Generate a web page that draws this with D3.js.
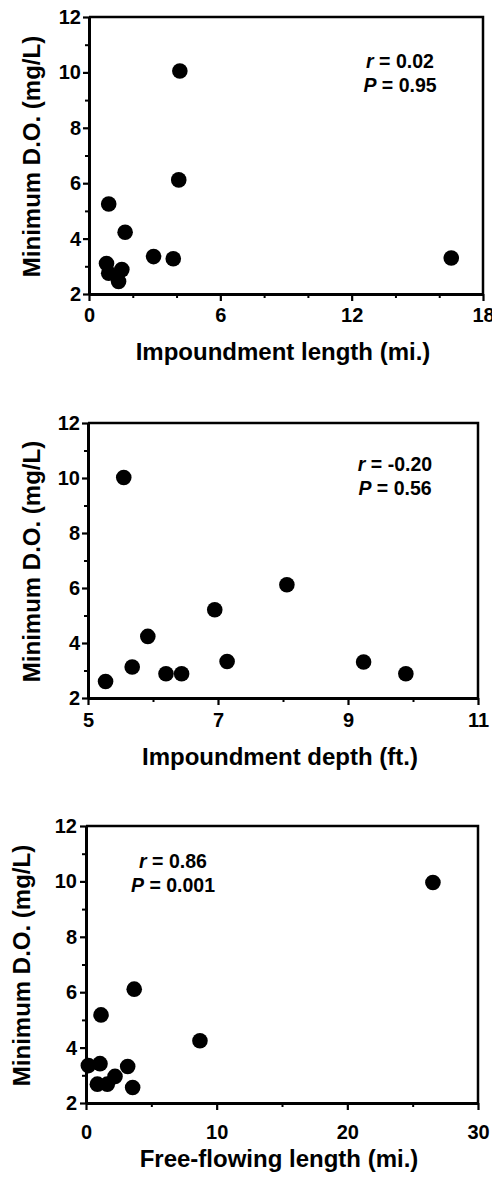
<!DOCTYPE html>
<html>
<head>
<meta charset="utf-8">
<script src="https://cdn.jsdelivr.net/npm/d3@7"></script>
<style>
  html, body { margin: 0; padding: 0; background: #fff; }
  svg { display: block; }
  text { font-family: "Liberation Sans", Arial, sans-serif; font-weight: bold; fill: #000; }
</style>
</head>
<body>
<svg id="chart" width="492" height="1182"></svg>
<script>
// ---- data ----
const yTitle = "Minimum D.O. (mg/L)";
const yMajorTicks = [2, 4, 6, 8, 10, 12];
const yMinorTicks = [3, 5, 7, 9, 11];

// Panel 1: impoundment length
const lengthTitle = "Impoundment length (mi.)";
const lengthMajorTicks = [0, 6, 12, 18];
const lengthMinorTicks = [2, 4, 8, 10, 14, 16];
const lengthX = [4.15, 4.1, 0.9, 1.65, 2.95, 3.85, 16.55, 0.8, 0.9, 1.5, 1.35];
const lengthY = [10.05, 6.12, 5.25, 4.23, 3.35, 3.27, 3.3, 3.1, 2.75, 2.88, 2.45];
const lengthStats = ["0.02", "0.95"];

// Panel 2: impoundment depth
const depthTitle = "Impoundment depth (ft.)";
const depthMajorTicks = [5, 7, 9, 11];
const depthMinorTicks = [6, 8, 10];
const depthX = [5.27, 5.55, 5.68, 5.92, 6.2, 6.44, 6.95, 7.14, 8.06, 9.24, 9.89];
const depthY = [2.6, 10.02, 3.13, 4.24, 2.88, 2.88, 5.21, 3.33, 6.12, 3.31, 2.88];
const depthStats = ["-0.20", "0.56"];

// Panel 3: free-flowing length
const freeTitle = "Free-flowing length (mi.)";
const freeMajorTicks = [0, 10, 20, 30];
const freeMinorTicks = [5, 15, 25];
const freeX = [0.18, 1.07, 0.87, 1.63, 2.22, 3.19, 3.57, 1.15, 3.69, 8.72, 26.55];
const freeY = [3.35, 3.42, 2.68, 2.68, 2.96, 3.32, 2.56, 5.18, 6.11, 4.25, 9.96];
const freeStats = ["0.86", "0.001"];

// ---- drawing ----
const svg = d3.select("#chart");

function drawPanel(p) {
  const x = d3.scaleLinear().domain([p.xMajor[0], p.xMajor[p.xMajor.length - 1]]).range([p.left, p.right]);
  const y = d3.scaleLinear().domain([yMajorTicks[0], yMajorTicks[yMajorTicks.length - 1]]).range([p.bottom, p.top]);
  const g = svg.append("g");

  // frame (top and right)
  g.append("path")
    .attr("d", `M${x.range()[0]},${y(12)}H${x.range()[1]}V${y(2)}`)
    .attr("fill", "none").attr("stroke", "#000").attr("stroke-width", 2.5);

  // minor ticks
  g.append("g").attr("transform", `translate(0,${y(2)})`)
    .call(d3.axisBottom(x).tickValues(p.xMinor).tickSize(4).tickSizeOuter(0).tickFormat(""))
    .call(a => a.select(".domain").remove())
    .call(a => a.selectAll("line").attr("stroke-width", 2));
  g.append("g").attr("transform", `translate(${x.range()[0]},0)`)
    .call(d3.axisLeft(y).tickValues(yMinorTicks).tickSize(4).tickSizeOuter(0).tickFormat(""))
    .call(a => a.select(".domain").remove())
    .call(a => a.selectAll("line").attr("stroke-width", 2));

  // major axes
  const xa = g.append("g").attr("transform", `translate(0,${y(2)})`)
    .call(d3.axisBottom(x).tickValues(p.xMajor).tickSize(7).tickSizeOuter(0).tickPadding(p.xPad).tickFormat(d3.format("d")));
  const ya = g.append("g").attr("transform", `translate(${x.range()[0]},0)`)
    .call(d3.axisLeft(y).tickValues(yMajorTicks).tickSize(6).tickSizeOuter(0).tickPadding(p.yPad).tickFormat(d3.format("d")));
  [xa, ya].forEach(a => {
    a.select(".domain").attr("stroke-width", 3);
    a.selectAll("line").attr("stroke-width", 2.2);
    a.selectAll("text").attr("font-size", 20).attr("font-family", '"Liberation Sans", Arial, sans-serif').attr("font-weight", "bold");
  });

  // axis titles
  g.append("text")
    .attr("x", (x.range()[0] + x.range()[1]) / 2 - 3)
    .attr("y", y(2) + p.xTitleOffset)
    .attr("text-anchor", "middle").attr("font-size", 24)
    .text(p.xTitle);
  g.append("text")
    .attr("transform", `translate(${p.yTitleX},${(y(2) + y(12)) / 2 + 1}) rotate(-90)`)
    .attr("text-anchor", "middle").attr("font-size", 24)
    .text(yTitle);

  // points
  g.append("g").selectAll("circle")
    .data(p.xs.map((v, i) => [v, p.ys[i]]))
    .join("circle")
    .attr("cx", d => x(d[0])).attr("cy", d => y(d[1]))
    .attr("r", 7.8).attr("fill", "#000");

  // stats
  const labels = [["r", p.stats[0]], ["P", p.stats[1]]];
  labels.forEach((l, i) => {
    const t = g.append("text")
      .attr("x", p.statX).attr("y", p.statY + i * 23.5)
      .attr("text-anchor", "middle").attr("font-size", 19.5);
    t.append("tspan").attr("font-style", "italic").text(l[0]);
    t.append("tspan").text(" = " + l[1]);
  });
}

drawPanel({
  xMajor: lengthMajorTicks, xMinor: lengthMinorTicks, xs: lengthX, ys: lengthY,
  xTitle: lengthTitle, stats: lengthStats,
  left: 89, right: 483, top: 17, bottom: 294,
  xPad: 7, yPad: 2, xTitleOffset: 66, yTitleX: 40, statX: 400, statY: 68
});
drawPanel({
  xMajor: depthMajorTicks, xMinor: depthMinorTicks, xs: depthX, ys: depthY,
  xTitle: depthTitle, stats: depthStats,
  left: 88, right: 478, top: 423, bottom: 698,
  xPad: 8, yPad: 2, xTitleOffset: 67, yTitleX: 40, statX: 395, statY: 471
});
drawPanel({
  xMajor: freeMajorTicks, xMinor: freeMinorTicks, xs: freeX, ys: freeY,
  xTitle: freeTitle, stats: freeStats,
  left: 86, right: 478, top: 826, bottom: 1103,
  xPad: 15, yPad: 3, xTitleOffset: 64, yTitleX: 30, statX: 173, statY: 868
});
</script>
</body>
</html>
